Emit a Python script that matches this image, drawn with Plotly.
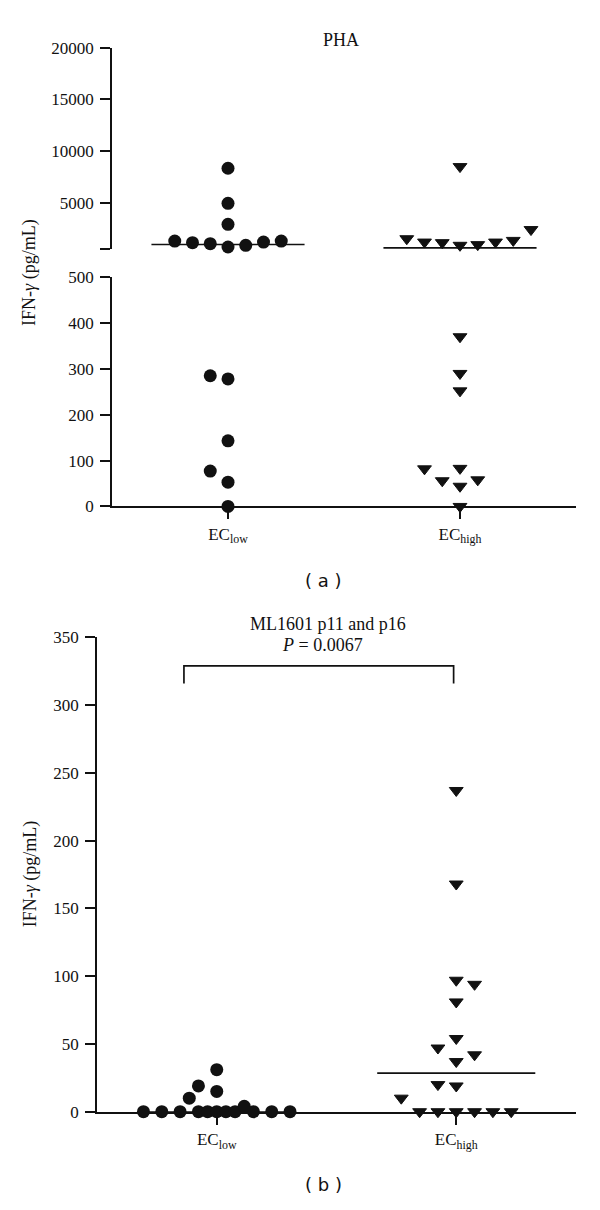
import numpy as np
import plotly.graph_objects as go

# ---------------- data ----------------
categories = ["EC<sub>low</sub>", "EC<sub>high</sub>"]
category_pos = [1, 2]

# Panel (a) PHA  (values in pg/mL, slot = horizontal position in the scatter column)
pha_low_vals = [8335, 4943, 2904, 1284, 1131, 1036, 712, 874, 1188, 1284, 285, 278, 143, 77, 53, 0]
pha_low_slots = [0, 0, 0, -3, -2, -1, 0, 1, 2, 3, -1, 0, 0, -1, 0, 0]
pha_high_vals = [8497, 1512, 1188, 1131, 874, 940, 1188, 1350, 2398, 370, 290, 252, 82, 56, 83, 44, 58, 0]
pha_high_slots = [0, -3, -2, -1, 0, 1, 2, 3, 4, 0, 0, 0, -2, -1, 0, 0, 1, 0]

# Panel (b) ML1601 p11 and p16
ml_low_vals = [0, 0, 0, 0, 0, 0, 0, 0, 0, 0, 0, 4, 10, 19, 31, 15]
ml_low_slots = [-4, -3, -2, -1, -0.5, 0, 0.5, 1, 2, 3, 4, 1.5, -1.5, -1, 0, 0]
ml_high_vals = [237, 168, 97, 94, 81, 54, 47, 42, 37, 20, 19, 10, 0, 0, 0, 0, 0, 0]
ml_high_slots = [0, 0, 0, 1, 0, 0, -1, 1, 0, -1, 0, -3, -2, -1, 0, 1, 2, 3]

pha_upper_ticks = [500, 5000, 10000, 15000, 20000]
pha_upper_ticktext = ["", "5000", "10000", "15000", "20000"]
pha_lower_ticks = [0, 100, 200, 300, 400, 500]
ml_ticks = [0, 50, 100, 150, 200, 250, 300, 350]
axis_break = 500
p_value_text = "<i>P</i> = 0.0067"
bracket_y = [316, 329]

# ---------------- layout helpers ----------------
PAGE_MARGIN = 8            # default <body> margin of the written page
W, H = 600 - PAGE_MARGIN, 1210 - PAGE_MARGIN
SLOT = 0.0765
HALF = 0.33
SERIF = "Liberation Serif"
BLACK = "#111111"


def fx(p):
    return (p - PAGE_MARGIN) / W


def fy(p):
    return 1 - (p - PAGE_MARGIN) / H


fig = go.Figure()

marker_circle = dict(symbol="circle", size=13, color=BLACK, line=dict(width=0))
marker_tri = dict(symbol="triangle-down", size=12, color=BLACK, line=dict(width=1, color=BLACK))


def add_group(vals, slots, center, marker, upper=None, lower=None, single=None):
    vals = np.array(vals, dtype=float)
    xs = center + np.array(slots, dtype=float) * SLOT
    med = float(np.median(vals))
    if single is not None:
        xa, ya = single
        fig.add_trace(go.Scatter(x=[center - HALF, center + HALF], y=[med, med], mode="lines",
                                 line=dict(color=BLACK, width=1.6), xaxis=xa, yaxis=ya,
                                 showlegend=False, hoverinfo="skip", cliponaxis=False))
        fig.add_trace(go.Scatter(x=xs, y=vals, mode="markers", marker=marker, xaxis=xa, yaxis=ya,
                                 showlegend=False, cliponaxis=False))
        return
    xa_u, ya_u = upper
    xa_l, ya_l = lower
    mxa, mya = (upper if med >= axis_break else lower)
    fig.add_trace(go.Scatter(x=[center - HALF, center + HALF], y=[med, med], mode="lines",
                             line=dict(color=BLACK, width=1.6), xaxis=mxa, yaxis=mya,
                             showlegend=False, hoverinfo="skip", cliponaxis=False))
    up = vals >= axis_break
    fig.add_trace(go.Scatter(x=xs[up], y=vals[up], mode="markers", marker=marker, xaxis=xa_u,
                             yaxis=ya_u, showlegend=False, cliponaxis=False))
    fig.add_trace(go.Scatter(x=xs[~up], y=vals[~up], mode="markers", marker=marker, xaxis=xa_l,
                             yaxis=ya_l, showlegend=False, cliponaxis=False))


add_group(pha_low_vals, pha_low_slots, category_pos[0], marker_circle, upper=("x", "y"), lower=("x2", "y2"))
add_group(pha_high_vals, pha_high_slots, category_pos[1], marker_tri, upper=("x", "y"), lower=("x2", "y2"))
add_group(ml_low_vals, ml_low_slots, category_pos[0], marker_circle, single=("x3", "y3"))
add_group(ml_high_vals, ml_high_slots, category_pos[1], marker_tri, single=("x3", "y3"))

tickfont = dict(family=SERIF, size=17, color=BLACK)
common_y = dict(showline=True, linecolor=BLACK, linewidth=1.7, ticks="outside", ticklen=10,
                tickwidth=1.7, tickcolor=BLACK, showgrid=False, zeroline=False, tickfont=tickfont,
                ticklabelstandoff=3)
common_x = dict(showline=True, linecolor=BLACK, linewidth=1.7, ticks="outside", ticklen=11,
                tickwidth=1.7, tickcolor=BLACK, showgrid=False, zeroline=False, tickfont=tickfont,
                tickvals=category_pos, ticktext=categories, range=[0.5, 2.5])

fig.update_layout(
    width=W, height=H, margin=dict(l=0, r=0, t=0, b=0),
    font=dict(family=SERIF, size=17, color=BLACK),
    paper_bgcolor="white", plot_bgcolor="white", showlegend=False,
    xaxis=dict(domain=[fx(112), fx(576)], range=[0.5, 2.5], visible=False, anchor="y"),
    yaxis=dict(domain=[fy(243.9), fy(39.3)], range=[500, 20000], tickvals=pha_upper_ticks,
               ticktext=pha_upper_ticktext, anchor="x", **common_y),
    xaxis2=dict(domain=[fx(112), fx(576)], anchor="y2", **common_x),
    yaxis2=dict(domain=[fy(505.3), fy(272.3)], range=[0, 500], tickvals=pha_lower_ticks,
                anchor="x2", **common_y),
    xaxis3=dict(domain=[fx(97), fx(576)], anchor="y3", **common_x),
    yaxis3=dict(domain=[fy(1120.3), fy(638.3)], range=[0, 350], tickvals=ml_ticks,
                anchor="x3", **common_y),
)

# comparison bracket in panel (b)
fig.add_shape(type="path", xref="x3", yref="y3",
              path=f"M {category_pos[0]-0.137} {bracket_y[0]} L {category_pos[0]-0.137} {bracket_y[1]} "
                   f"L {category_pos[1]-0.011} {bracket_y[1]} L {category_pos[1]-0.011} {bracket_y[0]}",
              line=dict(color=BLACK, width=1.7))

ann_font = dict(family=SERIF, size=18, color=BLACK)
annots = [
    dict(text="PHA", x=fx(341), y=fy(31)),
    dict(text="ML1601 p11 and p16", x=fx(328), y=fy(625)),
    dict(text=p_value_text, x=fx(322), y=fy(646)),
]
for a in annots:
    fig.add_annotation(xref="paper", yref="paper", showarrow=False, xanchor="center",
                       yanchor="middle", font=ann_font, **a)

for yy in (268, 879):
    fig.add_annotation(xref="paper", yref="paper", x=fx(30), y=fy(yy), showarrow=False,
                       text="IFN-<i>γ</i> (pg/mL)", textangle=-90, xanchor="center",
                       yanchor="middle", font=ann_font)

for lab, yy in (("( a )", 581), ("( b )", 1194)):
    fig.add_annotation(xref="paper", yref="paper", x=fx(323), y=fy(yy), showarrow=False,
                       text=lab, xanchor="center", yanchor="middle",
                       font=dict(family="DejaVu Sans", size=18, color=BLACK))

fig.write_html("out.html")
